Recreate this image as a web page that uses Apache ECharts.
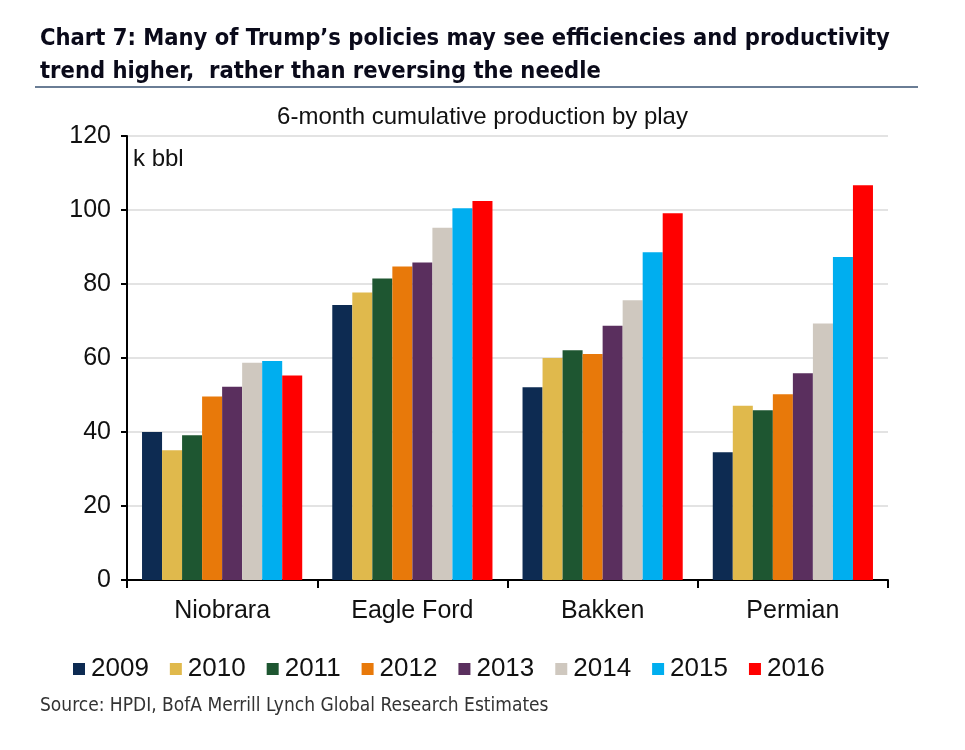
<!DOCTYPE html>
<html><head><meta charset="utf-8">
<script src="https://cdn.jsdelivr.net/npm/echarts@6/dist/echarts.min.js"></script>
<style>html,body{margin:0;padding:0;background:#fff}#c{width:965px;height:750px}</style>
</head><body><div id="c"></div>
<script>
var categories = ['Niobrara', 'Eagle Ford', 'Bakken', 'Permian'];
var years = ['2009', '2010', '2011', '2012', '2013', '2014', '2015', '2016'];
var v2009 = [40.0, 74.3, 52.1, 34.5];
var v2010 = [35.1, 77.7, 60.0, 47.1];
var v2011 = [39.1, 81.5, 62.1, 45.9];
var v2012 = [49.6, 84.7, 61.1, 50.2];
var v2013 = [52.2, 85.8, 68.7, 55.9];
var v2014 = [58.7, 95.2, 75.6, 69.3];
var v2015 = [59.2, 100.5, 88.6, 87.3];
var v2016 = [55.3, 102.4, 99.1, 106.7];
var yTicks = [0, 20, 40, 60, 80, 100, 120];

var seriesValues = [v2009, v2010, v2011, v2012, v2013, v2014, v2015, v2016];
var colors = ['#0d2b52', '#e0b94c', '#1e5631', '#e8790a', '#5a2f5e', '#cfc8bf', '#00aeef', '#ff0000'];

var chart = echarts.init(document.getElementById('c'), null, {renderer: 'canvas'});
var series = years.map(function (y, i) {
  return {
    name: y, type: 'bar', data: seriesValues[i],
    itemStyle: {color: colors[i]},
    barGap: '0%', barCategoryGap: '15.8%'
  };
});
chart.setOption({
  animation: false,
  color: colors,
  title: [{
    text: "Chart 7: Many of Trump\u2019s policies may see efficiencies and productivity\ntrend higher,  rather than reversing the needle",
    left: 35, top: 17,
    textStyle: {fontFamily: 'DejaVu Sans Condensed', fontWeight: 'bold', fontSize: 23.5, lineHeight: 33, color: '#0a0a1a'}
  }, {
    text: '6-month cumulative production by play',
    left: 'center', top: 100,
    textStyle: {fontFamily: 'Liberation Sans', fontWeight: 'normal', fontSize: 24, color: '#111'}
  }],
  graphic: [
    {type: 'line', shape: {x1: 35, y1: 87, x2: 918, y2: 87}, style: {stroke: '#6a7d95', lineWidth: 2}},
    {type: 'text', left: 133, top: 147, style: {text: 'k bbl', font: '24px "Liberation Sans"', fill: '#111'}},
    {type: 'text', left: 40, top: 697, style: {text: 'Source: HPDI, BofA Merrill Lynch Global Research Estimates', font: '19px "DejaVu Sans Condensed"', fill: '#333'}}
  ],
  legend: {
    data: years, left: 68, top: 651,
    icon: 'rect', itemWidth: 12, itemHeight: 12, itemGap: 21,
    textStyle: {fontFamily: 'Liberation Sans', fontSize: 26, color: '#111', padding: [0, 0, 0, 1]}
  },
  grid: {left: 127, right: 77, top: 136, bottom: 170},
  xAxis: {
    type: 'category', data: categories,
    axisLine: {lineStyle: {color: '#000', width: 2}},
    axisTick: {show: true, length: 8, lineStyle: {color: '#000', width: 2}},
    axisLabel: {fontFamily: 'Liberation Sans', fontSize: 25, color: '#111', margin: 19}
  },
  yAxis: {
    type: 'value', min: yTicks[0], max: yTicks[yTicks.length - 1], interval: 20,
    axisLine: {show: true, lineStyle: {color: '#000', width: 2}},
    axisTick: {show: true, length: 6, lineStyle: {color: '#000', width: 2}},
    axisLabel: {fontFamily: 'Liberation Sans', fontSize: 25, color: '#111', margin: 16},
    splitLine: {lineStyle: {color: '#e3e3e3', width: 2}}
  },
  series: series
});
</script></body></html>
